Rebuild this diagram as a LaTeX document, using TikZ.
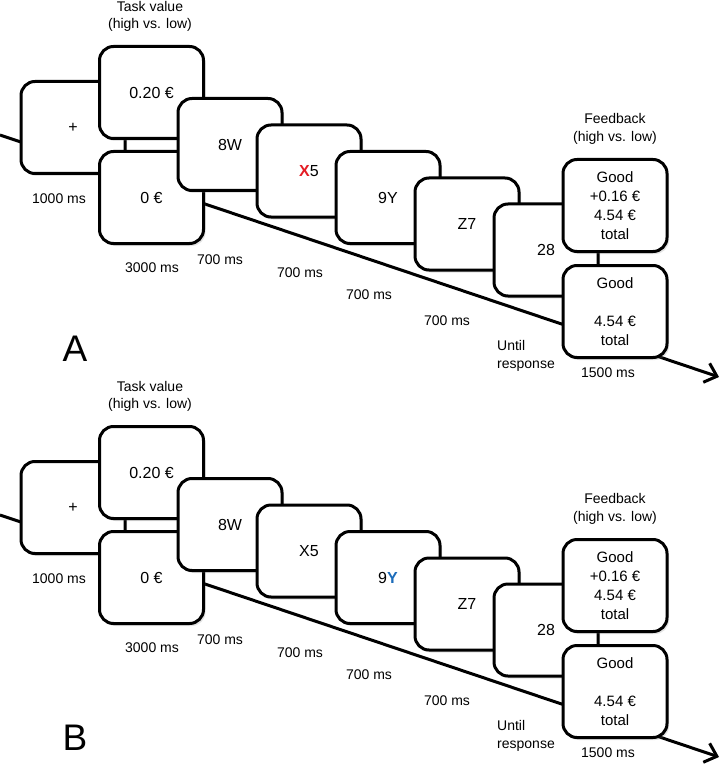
\documentclass[tikz,border=0pt]{standalone}
\usepackage{fontspec}
\setmainfont{Liberation Sans}
\usetikzlibrary{arrows.meta,shadows}
\definecolor{xred}{RGB}{228,28,36}
\definecolor{yblue}{RGB}{28,108,186}
\tikzset{
  screen/.style={draw=black, fill=white, line width=3pt, rounded corners=14pt,
    minimum width=104pt, minimum height=92pt, inner sep=0pt,
    font=\fontsize{16}{19}\selectfont,
    drop shadow={shadow xshift=2pt, shadow yshift=-2.5pt, opacity=0.22}},
  fbscreen/.style={screen, font=\fontsize{15}{19}\selectfont, align=center},
  lbl/.style={font=\fontsize{14}{17.5}\selectfont, inner sep=0pt, align=center},
  lblleft/.style={font=\fontsize{14}{18}\selectfont, inner sep=0pt, align=left, anchor=west},
  timeline/.style={line width=3pt, -{Straight Barb[length=11pt,width=20pt]}},
  panellabel/.style={font=\fontsize{37}{40}\selectfont, inner sep=0pt},
}
% #1 prefix, #2 vertical shift, #3 text of 3rd stimulus, #4 text of 4th stimulus, #5 letter, #6 letter y
\newcommand\trialpanel[6]{%
  \begin{scope}[shift={(0,#2)}]
    \coordinate (#1start) at (0,135);
    \coordinate (#1end) at (719,377);
    \draw[timeline] (#1start) -- (#1end);
    \node[screen] (#1fix) at (73,127.5) {+};
    \node[screen] (#1high) at (151.5,92.5) {0.20 €};
    \node[screen] (#1low) at (151.5,197.5) {0 €};
    \node[screen] (#1sa) at (230,144.5) {8W};
    \node[screen] (#1sb) at (309,171) {#3};
    \node[screen] (#1sc) at (388,197.5) {#4};
    \node[screen] (#1sd) at (467,224) {Z7};
    \node[screen] (#1se) at (546,250) {28};
    \node[fbscreen] (#1fbh) at (615,205.5) {Good\\+0.16 €\\4.54 €\\total};
    \node[fbscreen] (#1fbl) at (615,311.5) {Good\\\mbox{}\\4.54 €\\total};
    \node[lbl] (#1tv) at (150,16.5) {Task value\\(high vs. low)};
    \node[lbl] (#1fb) at (615,129) {Feedback\\(high vs. low)};
    \node[lbl] (#1ta) at (59,199) {1000 ms};
    \node[lbl] (#1tb) at (152,268) {3000 ms};
    \node[lbl] (#1tc) at (220,260) {700 ms};
    \node[lbl] (#1td) at (300,273) {700 ms};
    \node[lbl] (#1te) at (369,295) {700 ms};
    \node[lbl] (#1tf) at (447,321) {700 ms};
    \node[lblleft] (#1tg) at (497,356) {Until\\response};
    \node[lbl] (#1th) at (608,373) {1500 ms};
    \node[panellabel] (#1letter) at (75,#6) {#5};
  \end{scope}
}
\begin{document}
\begin{tikzpicture}[x=1pt,y=-1pt]
  \useasboundingbox[fill=white] (0,0) rectangle (722,767);
  \trialpanel{A}{0}{\textbf{\color{xred}X}5}{9Y}{A}{349}
  \trialpanel{B}{380}{X5}{9\textbf{\color{yblue}Y}}{B}{358}
\end{tikzpicture}
\end{document}
